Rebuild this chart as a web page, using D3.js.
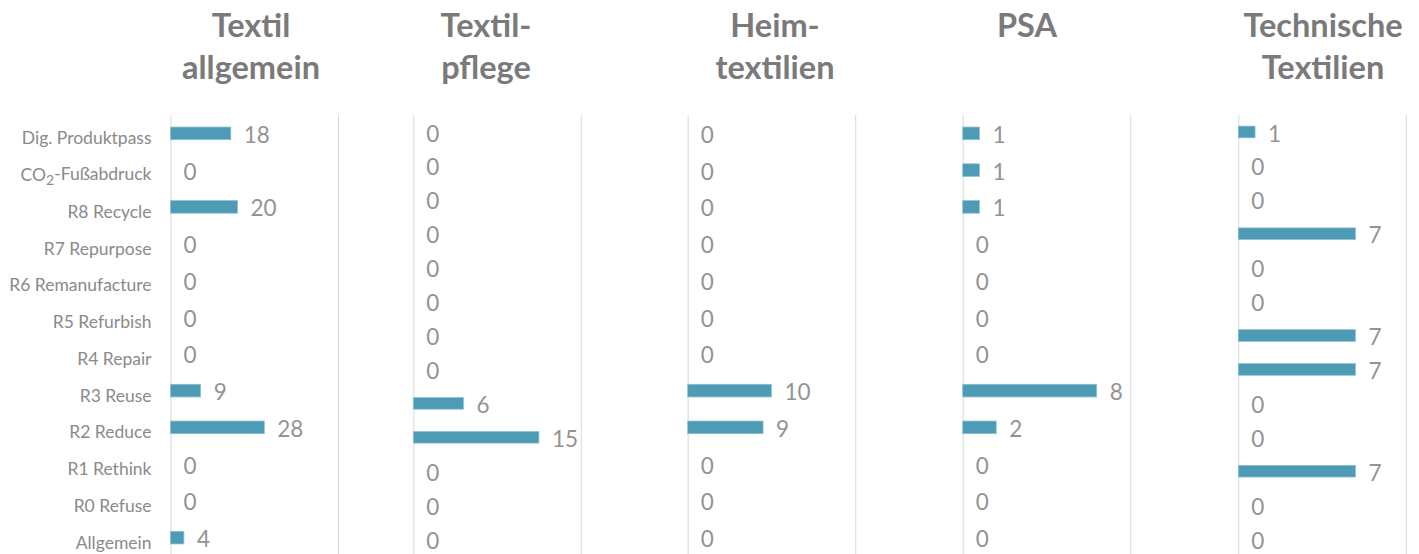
<!DOCTYPE html>
<html>
<head>
<meta charset="utf-8">
<script src="https://cdn.jsdelivr.net/npm/d3@7"></script>
<style>
  body { margin: 0; background: #fff; }
  svg { display: block; }
  text { font-family: Lato, "Open Sans", sans-serif; }
  .title { font-weight: 700; fill: #7a7a7a; }
  .cat-label { fill: #8a8a8a; }
  .value-label { fill: #939393; }
</style>
</head>
<body>
<script>
// category names (only the first chart shows them)
const categories = ["Dig. Produktpass", "CO2-Fußabdruck", "R8 Recycle", "R7 Repurpose",
  "R6 Remanufacture", "R5 Refurbish", "R4 Repair", "R3 Reuse", "R2 Reduce",
  "R1 Rethink", "R0 Refuse", "Allgemein"];

const titles = [["Textil", "allgemein"], ["Textil-", "pflege"], ["Heim-", "textilien"],
  ["PSA"], ["Technische", "Textilien"]];

const textilAllgemein = [18, 0, 20, 0, 0, 0, 0, 9, 28, 0, 0, 4];
const textilpflege    = [0, 0, 0, 0, 0, 0, 0, 0, 6, 15, 0, 0, 0];
const heimtextilien   = [0, 0, 0, 0, 0, 0, 0, 10, 9, 0, 0, 0];
const psa             = [1, 1, 1, 0, 0, 0, 0, 8, 2, 0, 0, 0];
const technische      = [1, 0, 0, 7, 0, 0, 7, 7, 0, 0, 7, 0, 0];

const axisMax = [50, 20, 20, 10, 10];

const seriesList = [textilAllgemein, textilpflege, heimtextilien, psa, technische];

// layout of the five small charts
const W = 1419, H = 554;
const plotLeft = [170.5, 413.3, 687.7, 962.7, 1238.3];
const plotWidth = 167.5;
const titleX = [251, 486, 775, 1027, 1323];
const plotTop = 115, plotBottom = 556;

const svg = d3.select("body").append("svg")
  .attr("width", W)
  .attr("height", H);

seriesList.forEach((values, i) => {
  const g = svg.append("g");

  const x = d3.scaleLinear()
    .domain([0, axisMax[i]])
    .range([plotLeft[i], plotLeft[i] + plotWidth]);

  const y = d3.scaleBand()
    .domain(d3.range(values.length))
    .range([plotTop, plotBottom])
    .paddingInner(0.655)
    .paddingOuter(0.3275);

  // vertical lines at 0 and max
  const gx = g.append("g")
    .attr("transform", `translate(0,${plotBottom})`)
    .call(d3.axisBottom(x).tickValues([0, axisMax[i]]).tickSize(-(plotBottom - plotTop)));
  gx.select(".domain").remove();
  gx.selectAll(".tick text").remove();
  gx.selectAll(".tick line").attr("stroke", "#d9d9d9").attr("stroke-width", 1);

  // category labels on the first chart
  if (i === 0) {
    const yCat = d3.scaleBand()
      .domain(categories)
      .range([plotTop, plotBottom])
      .paddingInner(0.655)
      .paddingOuter(0.3275);
    const gy = g.append("g")
      .attr("transform", `translate(${plotLeft[0] - 19},5.5)`)
      .call(d3.axisLeft(yCat).tickSize(0).tickPadding(0));
    gy.select(".domain").remove();
    gy.selectAll(".tick text")
      .attr("class", "cat-label")
      .attr("fill", null)
      .style("font-size", "17.5px")
      .each(function(d) {
        if (d.startsWith("CO2")) {
          const t = d3.select(this).text(null);
          t.append("tspan").text("CO");
          t.append("tspan").attr("dy", "0.3em").style("font-size", "14px").text("2");
          t.append("tspan").attr("dy", "-0.3em").text(d.slice(3));
        }
      });
  }

  g.append("g")
    .selectAll("rect")
    .data(values)
    .join("rect")
      .attr("x", x(0))
      .attr("y", (d, k) => y(k))
      .attr("width", d => x(d) - x(0))
      .attr("height", y.bandwidth())
      .attr("fill", "#4e9bb5")
      .attr("stroke", d => d > 0 ? "#8fc1d2" : "none")
      .attr("stroke-width", 0.75);

  g.append("g")
    .selectAll("text")
    .data(values)
    .join("text")
      .attr("class", "value-label")
      .attr("x", d => x(d) + 13)
      .attr("y", (d, k) => y(k) + y.bandwidth() / 2 + 1.5)
      .attr("dy", "0.36em")
      .style("font-size", "22.5px")
      .text(d => d);

  svg.append("text")
    .attr("class", "title")
    .attr("text-anchor", "middle")
    .style("font-size", "32.5px")
    .selectAll("tspan")
    .data(titles[i])
    .join("tspan")
      .attr("x", titleX[i])
      .attr("y", (d, k) => 37 + k * 42)
      .text(d => d);
});
</script>
</body>
</html>
